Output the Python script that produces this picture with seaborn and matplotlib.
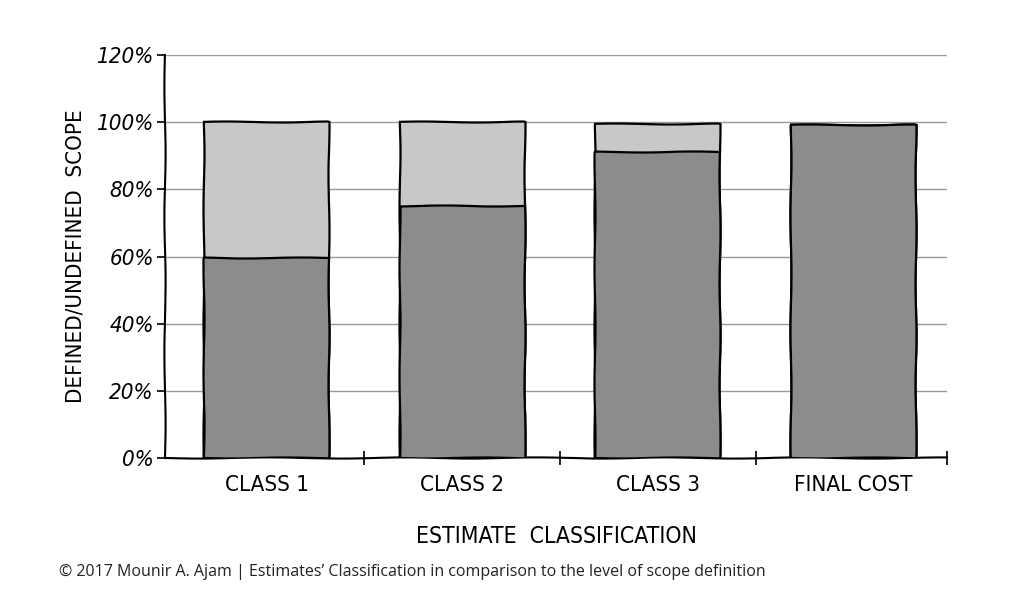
import numpy as np
import pandas as pd
import matplotlib
matplotlib.use("Agg")
import matplotlib.pyplot as plt
import seaborn as sns
from matplotlib.ticker import FixedLocator, FuncFormatter

categories = ["CLASS 1", "CLASS 2", "CLASS 3", "FINAL COST"]
defined = [59.5, 75, 91, 99]
undefined = [40.5, 25, 8.5, 0]
y_ticks = [0, 20, 40, 60, 80, 100, 120]

df = pd.DataFrame({"cat": categories,
                   "defined": defined,
                   "total": [d + u for d, u in zip(defined, undefined)]})

sns.set_theme(style="white")
plt.rcParams["font.family"] = ["DejaVu Sans"]
plt.rcParams["font.stretch"] = "condensed"
plt.rcParams["text.color"] = "black"
plt.rcParams["axes.labelcolor"] = "black"
plt.rcParams["xtick.color"] = "black"
plt.rcParams["ytick.color"] = "black"

fig = plt.figure(figsize=(10.24, 5.89), dpi=100)
ax = fig.add_axes([0.161, 0.222, 0.764, 0.685])

sns.barplot(data=df, x="cat", y="total", order=categories, color="#c8c8c8",
            saturation=1, width=0.64, edgecolor="black", linewidth=1.6, ax=ax, zorder=3)
sns.barplot(data=df, x="cat", y="defined", order=categories, color="#8c8c8c",
            saturation=1, width=0.64, edgecolor="black", linewidth=1.6, ax=ax, zorder=4)
for p in ax.patches:
    p.set_sketch_params(0.5, 120, 2)

ax.set_xlim(-0.52, 3.48)
ax.set_ylim(0, 120)
ax.yaxis.set_major_locator(FixedLocator(y_ticks))
ax.yaxis.set_major_formatter(FuncFormatter(lambda v, p: f"{int(v)}%"))
for t in ax.get_yticklabels():
    t.set_fontstyle("italic")
ax.grid(axis="y", color="#9a9a9a", linewidth=1.0, zorder=0)
ax.set_axisbelow(True)

sns.despine(ax=ax, top=True, right=True)
for s in ["left", "bottom"]:
    ax.spines[s].set_color("black")
    ax.spines[s].set_linewidth(1.5)
    ax.spines[s].set_sketch_params(0.6, 150, 2)

ax.tick_params(axis="y", which="major", left=True, direction="out", length=6, width=1.2,
               color="black", labelsize=16, pad=2)
ax.tick_params(axis="x", which="major", bottom=False, length=0, labelsize=16, pad=12)
ax.set_xticks([0.5, 1.5, 2.5, 3.48], minor=True)
ax.tick_params(axis="x", which="minor", bottom=True, direction="inout", length=10, width=1.2, color="black")

ax.set_xlabel("ESTIMATE  CLASSIFICATION", fontsize=16.5, labelpad=22)
ax.set_ylabel("DEFINED/UNDEFINED  SCOPE", fontsize=16, labelpad=8)

fig.text(0.058, 0.022, "\u00a9 2017 Mounir A. Ajam | Estimates\u2019 Classification in comparison to the level of scope definition",
         fontsize=11.5, family=["Open Sans", "DejaVu Sans"], stretch="normal", color="#222222")

fig.savefig("out.png", dpi=100, facecolor="white")
